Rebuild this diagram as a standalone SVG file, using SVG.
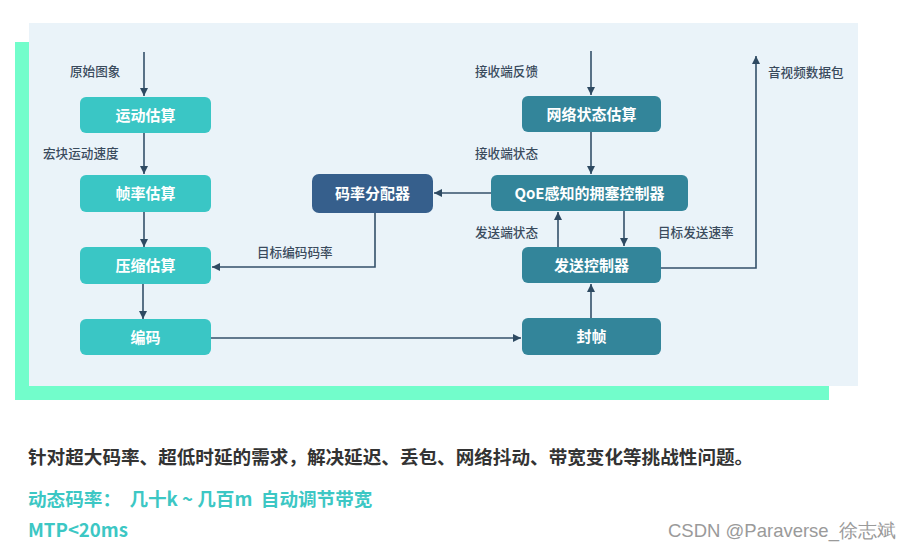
<svg xmlns="http://www.w3.org/2000/svg" width="912" height="549" viewBox="0 0 912 549">
<style>
.lbl{font-family:"Noto Sans CJK SC","Noto Sans",sans-serif;font-size:12.6px;fill:#3a4b5d;font-weight:500;}
.nt{font-family:"Noto Sans CJK SC","Noto Sans",sans-serif;font-size:15px;fill:#ffffff;text-anchor:middle;font-weight:bold;}
.a{fill:#3AC6C5;}
.b{fill:#33859A;}
.c{fill:#365F8C;}
.ln{stroke:#34506a;stroke-width:1.6;fill:none;}
.foot{font-family:"Noto Sans CJK SC","Noto Sans",sans-serif;font-weight:bold;font-size:18.6px;}
</style>
<defs>
<marker id="ah" viewBox="0 0 10 10" refX="10" refY="5" markerWidth="8" markerHeight="8" orient="auto" markerUnits="userSpaceOnUse">
<path d="M0,0 L10,5 L0,10 z" fill="#2E4A62"/>
</marker>
</defs>
<rect x="0" y="0" width="912" height="549" fill="#ffffff"/>
<rect x="15" y="42" width="814" height="358" fill="#72FDCB"/>
<rect x="29" y="23" width="829" height="363" fill="#EAF3F9"/>

<g id="connectors">
<line class="ln" x1="144" y1="52" x2="144" y2="96" marker-end="url(#ah)"/>
<line class="ln" x1="144" y1="133" x2="144" y2="174" marker-end="url(#ah)"/>
<line class="ln" x1="144" y1="212" x2="144" y2="247" marker-end="url(#ah)"/>
<line class="ln" x1="143" y1="284" x2="143" y2="319" marker-end="url(#ah)"/>
<polyline class="ln" points="375,213 375,267 212,267" marker-end="url(#ah)"/>
<line class="ln" x1="491" y1="193" x2="434" y2="193" marker-end="url(#ah)"/>
<line class="ln" x1="211" y1="338" x2="521" y2="338" marker-end="url(#ah)"/>
<line class="ln" x1="591" y1="51" x2="591" y2="95" marker-end="url(#ah)"/>
<line class="ln" x1="591" y1="132" x2="591" y2="174" marker-end="url(#ah)"/>
<line class="ln" x1="558" y1="247" x2="558" y2="212" marker-end="url(#ah)"/>
<line class="ln" x1="624" y1="211" x2="624" y2="246" marker-end="url(#ah)"/>
<line class="ln" x1="591" y1="318" x2="591" y2="284" marker-end="url(#ah)"/>
<polyline class="ln" points="661,268 756,268 756,56" marker-end="url(#ah)"/>
</g>

<g id="labels">
<text class="lbl" x="70" y="75.5">原始图象</text>
<text class="lbl" x="43" y="157.5">宏块运动速度</text>
<text class="lbl" x="257" y="256.5">目标编码码率</text>
<text class="lbl" x="475" y="75.5">接收端反馈</text>
<text class="lbl" x="475" y="157.5">接收端状态</text>
<text class="lbl" x="475" y="236.5">发送端状态</text>
<text class="lbl" x="658" y="236.5">目标发送速率</text>
<text class="lbl" x="768" y="76.5">音视频数据包</text>
</g>

<g id="n1"><rect class="a" x="80" y="97" width="131" height="36" rx="6"/><text class="nt" x="145.5" y="120.5">运动估算</text></g>
<g id="n2"><rect class="a" x="80" y="175" width="131" height="37" rx="6"/><text class="nt" x="145.5" y="198.5">帧率估算</text></g>
<g id="n3"><rect class="a" x="80" y="247" width="131" height="37" rx="6"/><text class="nt" x="145.5" y="270.5">压缩估算</text></g>
<g id="n4"><rect class="a" x="80" y="319" width="131" height="36" rx="6"/><text class="nt" x="145.5" y="342.5">编码</text></g>
<g id="n5"><rect class="c" x="312" y="174" width="121" height="39" rx="7"/><text class="nt" x="372.5" y="198.5">码率分配器</text></g>
<g id="n6"><rect class="b" x="522" y="96" width="139" height="36" rx="6"/><text class="nt" x="591.5" y="119.5">网络状态估算</text></g>
<g id="n7"><rect class="b" x="491" y="175" width="197" height="36" rx="6"/><text class="nt" x="589.5" y="198.5">QoE感知的拥塞控制器</text></g>
<g id="n8"><rect class="b" x="522" y="247" width="139" height="36" rx="6"/><text class="nt" x="591.5" y="270.5">发送控制器</text></g>
<g id="n9"><rect class="b" x="522" y="318" width="139" height="37" rx="6"/><text class="nt" x="591.5" y="341.5">封帧</text></g>

<text class="foot" x="28" y="464" fill="#333333">针对超大码率、超低时延的需求，解决延迟、丢包、网络抖动、带宽变化等挑战性问题。</text>
<text class="foot" x="28" y="506" fill="#3CC7C4" xml:space="preserve">动态码率：  几十k ~ 几百m  自动调节带宽</text>
<text class="foot" x="28" y="537" fill="#3CC7C4">MTP&lt;20ms</text>
<text x="668" y="537" font-family="Liberation Sans, sans-serif" font-size="18.5" fill="#9a9a9a">CSDN @Paraverse_徐志斌</text>
</svg>
